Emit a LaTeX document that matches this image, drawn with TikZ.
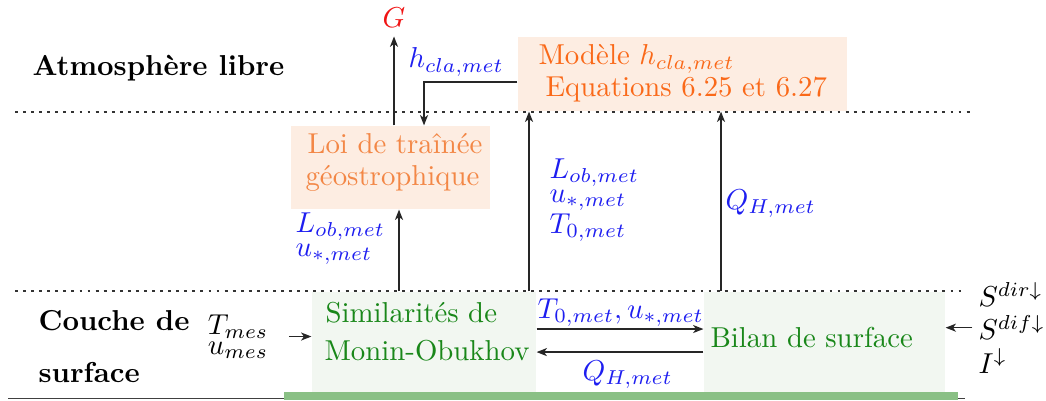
\documentclass[tikz,border=0pt]{standalone}
\usetikzlibrary{arrows.meta,fit}
\definecolor{peach}{RGB}{253,237,226}
\definecolor{modcol}{RGB}{250,105,25}
\definecolor{loicol}{RGB}{243,135,70}
\definecolor{grtext}{RGB}{25,135,25}
\definecolor{grfill}{RGB}{242,247,241}
\definecolor{grbar}{RGB}{138,192,133}
\definecolor{bl}{RGB}{30,30,240}
\definecolor{rd}{RGB}{240,20,20}
\newcommand\tstkl[1]{\vbox{\baselineskip=0pt\lineskip=1pt\lineskiplimit=0pt\halign{$##$\hfil\cr#1\crcr}}}
\newcommand\tstkc[1]{\vbox{\baselineskip=0pt\lineskip=1pt\lineskiplimit=0pt\halign{\hfil$##$\hfil\cr#1\crcr}}}
\begin{document}
\begin{tikzpicture}[x=0.3472pt,y=-0.3472pt,
  box/.style={inner sep=0pt, draw=none},
  txt/.style={inner sep=0pt, anchor=base west},
  lbl/.style={inner sep=0pt, anchor=base west, text=bl},
  arr/.style={-{Stealth[length=3.6pt,width=2.8pt,inset=1pt]}, black!85, line width=0.45pt},
  sepline/.style={dash pattern=on 1pt off 1.8pt, line width=0.6pt, black!80}]
\useasboundingbox (0,0) rectangle (1046,400);
% separators
\draw[sepline] (15,112) -- (970,112);
\draw[sepline] (15,291) -- (965,291);
\draw[black!75, line width=0.6pt] (8,398.5) -- (965,398.5);
\node[box, fill=grbar, fit={(284,392) (958,400)}] (bar) {};
% region titles
\node[txt, font=\bfseries] (atm) at (32,76) {Atmosphère libre};
\node[txt, font=\bfseries] (couche) at (38,330) {Couche de};
\node[txt, font=\bfseries] (surf) at (38,382) {surface};
% boxes
\node[box, fill=peach, fit={(518,37) (847,111)}] (mod) {};
\node[txt, text=modcol] (mod1) at (538,65) {Modèle $h_{cla,met}$};
\node[txt, text=modcol] (mod2) at (545,97) {Equations 6.25 et 6.27};
\node[box, fill=peach, fit={(291,126) (490,209)}] (loi) {};
\node[txt, text=loicol] (loi1) at (307,153) {Loi de traînée};
\node[txt, text=loicol] (loi2) at (305,185) {géostrophique};
\node[box, fill=grfill, fit={(312,292) (536,392)}] (sim) {};
\node[txt, text=grtext] (sim1) at (325,322) {Similarités de};
\node[txt, text=grtext] (sim2) at (324,360) {Monin-Obukhov};
\node[box, fill=grfill, fit={(704,292) (945,392)}] (bil) {};
\node[txt, text=grtext] (bil1) at (710,347) {Bilan de surface};
% G output
\node[inner sep=0pt, text=rd] (G) at (394,18) {$G$};
\coordinate (hx) at (424,0);
\coordinate (lx) at (399,0);
\coordinate (mx) at (529,0);
\coordinate (rx) at (721,0);
\draw[arr] (loi.north -| G) -- ([yshift=-2.8pt]G.south);
% h_cla
\draw[arr] ([yshift=-2.8pt]mod.west) -| (loi.north -| hx);
\node[lbl] (hlab) at (408,68) {$h_{cla,met}$};
% sim -> loi
\draw[arr] (sim.north -| lx) -- (loi.south -| lx);
\node[lbl] (l1) at (295,256) {\tstkl{L_{ob,met}\cr u_{*,met}}};
% sim -> mod
\draw[arr] (sim.north -| mx) -- (mod.south -| mx);
\node[lbl] (l2) at (549,233) {\tstkl{L_{ob,met}\cr u_{*,met}\cr T_{0,met}}};
% bil -> mod
\draw[arr] (bil.north -| rx) -- (mod.south -| rx);
\node[lbl] (l3) at (725,209) {$Q_{H,met}$};
% sim <-> bil
\draw[arr] ([yshift=4.5pt]sim.east) -- ([yshift=4.5pt]sim.east -| bil.west);
\node[lbl] (l4) at (537,318) {$T_{0,met}, u_{*,met}$};
\draw[arr] ([yshift=-3.5pt]sim.east -| bil.west) -- ([yshift=-3.5pt]sim.east);
\node[lbl] (l5) at (582,380) {$Q_{H,met}$};
% inputs
\node[inner sep=0pt, anchor=base] (tm) at (238,354) {\tstkc{T_{mes}\cr u_{mes}}};
\draw[arr] ([xshift=7pt]tm.east) -- (tm.east -| sim.west);
\node[inner sep=0pt, anchor=base west] (S) at (978,373) {\shortstack[l]{$S^{dir\downarrow}$\\$S^{dif\downarrow}$\\$I^{\downarrow}$}};
\draw[arr] ([xshift=-2pt]S.west) -- (S.west -| bil.east);
\end{tikzpicture}
\end{document}
